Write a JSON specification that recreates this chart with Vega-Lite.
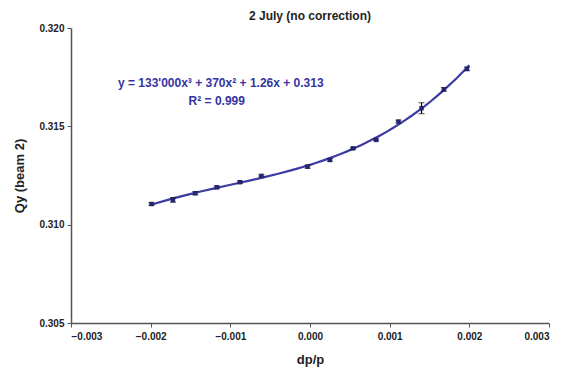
{
  "$schema": "https://vega.github.io/schema/vega-lite/v6.json",
  "autosize": {"type": "none"},
  "width": 478,
  "height": 295,
  "padding": {"left": 71, "top": 28, "right": 13, "bottom": 50},
  "background": "white",
  "config": {
    "font": "Liberation Sans",
    "view": {"stroke": null},
    "axis": {"grid": false, "domainColor": "#555555", "tickColor": "#555555", "domainWidth": 1.5, "labelFont": "Liberation Sans", "labelFontWeight": "bold", "labelFontSize": 10, "labelColor": "#222222", "titleFont": "Liberation Sans", "titleFontWeight": "bold", "titleFontSize": 13, "titleColor": "#222222", "tickSize": 4}
  },
  "title": {"text": "2 July (no correction)", "font": "Liberation Sans", "fontSize": 12, "fontWeight": "bold", "color": "#222222", "offset": 0, "anchor": "middle"},
  "data": {"values": [
    {"dpp": -0.00199, "qy": 0.31105, "err": 0.00007},
    {"dpp": -0.00172, "qy": 0.31126, "err": 0.00012},
    {"dpp": -0.00144, "qy": 0.31160, "err": 0.00008},
    {"dpp": -0.00117, "qy": 0.31190, "err": 0.00007},
    {"dpp": -0.00088, "qy": 0.31216, "err": 0.00006},
    {"dpp": -0.00061, "qy": 0.31248, "err": 0.00005},
    {"dpp": -0.00003, "qy": 0.31295, "err": 0.00008},
    {"dpp": 0.00025, "qy": 0.31329, "err": 0.00007},
    {"dpp": 0.00054, "qy": 0.31388, "err": 0.00005},
    {"dpp": 0.00083, "qy": 0.31431, "err": 0.00005},
    {"dpp": 0.00111, "qy": 0.31524, "err": 0.00007},
    {"dpp": 0.00140, "qy": 0.31592, "err": 0.00028},
    {"dpp": 0.00168, "qy": 0.31688, "err": 0.00009},
    {"dpp": 0.00197, "qy": 0.31792, "err": 0.00009}
  ]},
  "layer": [
    {
      "transform": [{"regression": "qy", "on": "dpp", "method": "poly", "order": 3, "extent": [-0.002, 0.002]}],
      "mark": {"type": "line", "color": "#3b3ba3", "strokeWidth": 2.2},
      "encoding": {
        "x": {"field": "dpp", "type": "quantitative", "title": "dp/p", "scale": {"domain": [-0.003, 0.003], "nice": false}, "axis": {"format": ".3f", "values": [-0.003, -0.002, -0.001, 0, 0.001, 0.002, 0.003], "labelPadding": 4, "titlePadding": 12}},
        "y": {"field": "qy", "type": "quantitative", "title": "Qy (beam 2)", "scale": {"domain": [0.305, 0.320], "nice": false, "zero": false}, "axis": {"format": ".3f", "values": [0.305, 0.310, 0.315, 0.320], "labelPadding": 3, "titlePadding": 12}}
      }
    },
    {
      "mark": {"type": "errorbar", "ticks": {"size": 6, "color": "black", "strokeWidth": 1.2}, "rule": {"color": "black", "strokeWidth": 1.2}},
      "encoding": {
        "x": {"field": "dpp", "type": "quantitative", "title": "dp/p"},
        "y": {"field": "qy", "type": "quantitative", "title": "Qy (beam 2)"},
        "yError": {"field": "err"}
      }
    },
    {
      "mark": {"type": "point", "shape": "square", "filled": true, "size": 20, "color": "#26266e", "opacity": 1},
      "encoding": {
        "x": {"field": "dpp", "type": "quantitative", "title": "dp/p"},
        "y": {"field": "qy", "type": "quantitative", "title": "Qy (beam 2)"}
      }
    },
    {
      "data": {"values": [{"label": "y = 133'000x³ + 370x² + 1.26x + 0.313"}]},
      "mark": {"type": "text", "font": "Liberation Sans", "fontWeight": "bold", "fontSize": 12, "color": "#3535a0", "align": "center", "baseline": "middle"},
      "encoding": {"x": {"datum": -0.00112}, "y": {"datum": 0.31722}, "text": {"field": "label"}}
    },
    {
      "data": {"values": [{"label": "R² = 0.999"}]},
      "mark": {"type": "text", "font": "Liberation Sans", "fontWeight": "bold", "fontSize": 12, "color": "#3535a0", "align": "center", "baseline": "middle"},
      "encoding": {"x": {"datum": -0.00117}, "y": {"datum": 0.31630}, "text": {"field": "label"}}
    }
  ]
}
